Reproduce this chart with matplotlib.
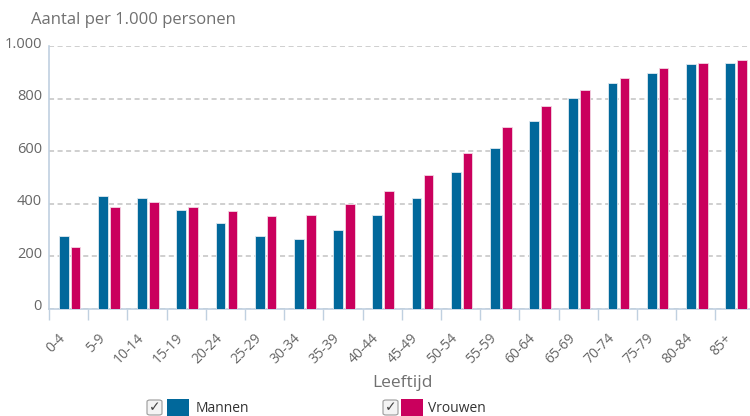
import matplotlib
matplotlib.use("Agg")
import matplotlib.pyplot as plt
import numpy as np
from matplotlib.transforms import ScaledTranslation
from matplotlib.patches import FancyBboxPatch, Rectangle

plt.rcParams['font.family'] = ['Open Sans', 'DejaVu Sans']

categories = ["0-4", "5-9", "10-14", "15-19", "20-24", "25-29", "30-34", "35-39",
              "40-44", "45-49", "50-54", "55-59", "60-64", "65-69", "70-74", "75-79",
              "80-84", "85+"]
mannen = [275, 428, 422, 377, 326, 275, 264, 301, 357, 422, 520, 613, 715, 802,
          858, 898, 932, 937]
vrouwen = [233, 388, 408, 386, 372, 352, 357, 398, 448, 509, 592, 690, 772, 833,
           878, 918, 937, 947]
yticks = [0, 200, 400, 600, 800, 1000]
ytick_labels = ["0", "200", "400", "600", "800", "1.000"]
series_names = ["Mannen", "Vrouwen"]
colors = ["#01689B", "#CA005D"]

W, H = 750, 416
fig = plt.figure(figsize=(W / 100, H / 100), dpi=100)
ax_left, ax_right_px = 49, 49 + 18 * 39.2
ax_top, ax_bot = 46, 308.7
ax = fig.add_axes([ax_left / W, 1 - ax_bot / H, (ax_right_px - ax_left) / W, (ax_bot - ax_top) / H])

x = np.arange(len(categories))
bw = 0.245
ax.bar(x - 0.125, mannen, width=bw, color=colors[0], edgecolor="#dfe9f0", linewidth=0.6, zorder=3)
ax.bar(x + 0.18, vrouwen, width=bw, color=colors[1], edgecolor="#f3d6e3", linewidth=0.6, zorder=3)

ax.set_xlim(-0.5, len(categories) - 0.5)
ax.set_ylim(0, 1000)

ax.set_yticks(yticks)
ax.set_yticklabels(ytick_labels, fontsize=10.5, color="#666666")
ax.tick_params(axis="y", length=0, pad=5)
for lab in ax.get_yticklabels():
    lab.set_transform(lab.get_transform() + ScaledTranslation(0, 4 / 100, fig.dpi_scale_trans))

ax.set_xticks(x)
ax.set_xticklabels(categories, rotation=45, ha="right", va="top", fontsize=10, color="#666666")
for lab in ax.get_xticklabels():
    lab.set_transform(lab.get_transform() + ScaledTranslation(1.5 / 100, 0, fig.dpi_scale_trans))
ax.set_xticks(np.arange(len(categories) + 1) - 0.5, minor=True)
ax.tick_params(axis="x", which="major", length=0, pad=16)
ax.tick_params(axis="x", which="minor", length=8, width=1.0, color="#C0D0E0")

ax.yaxis.grid(True, color="#CFCFCF", linestyle=(0, (2.6, 1.8)), linewidth=1.4, zorder=0)
ax.set_axisbelow(True)
for s in ["top", "right"]:
    ax.spines[s].set_visible(False)
for s in ["left", "bottom"]:
    ax.spines[s].set_color("#C0D0E0")
    ax.spines[s].set_linewidth(1.2)

fig.text(31 / W, 1 - 20 / H, "Aantal per 1.000 personen", fontsize=12, color="#707070",
         ha="left", va="center")
fig.text(403 / W, 1 - 383 / H, "Leeftijd", fontsize=12.5, color="#707070",
         ha="center", va="center")

# legend
def legend_item(cx, sq_x, tx, color, label):
    cb = FancyBboxPatch((cx / W, 1 - 415 / H), 15 / W, 15 / H,
                        boxstyle="round,pad=0,rounding_size=0.004",
                        transform=fig.transFigure, facecolor="#f4f4f4",
                        edgecolor="#9a9a9a", linewidth=0.8)
    fig.add_artist(cb)
    fig.text((cx + 7.5) / W, 1 - 407.5 / H, "\u2713", fontsize=10, color="#444444",
             ha="center", va="center", family="DejaVu Sans")
    fig.add_artist(Rectangle((sq_x / W, 0), 22 / W, 17 / H, transform=fig.transFigure,
                             facecolor=color, edgecolor="none"))
    fig.text(tx / W, 1 - 409 / H, label, fontsize=10, color="#333333", ha="left", va="center")

legend_item(147, 167, 196, colors[0], series_names[0])
legend_item(383, 401, 428, colors[1], series_names[1])

fig.savefig("out.png", dpi=100)
